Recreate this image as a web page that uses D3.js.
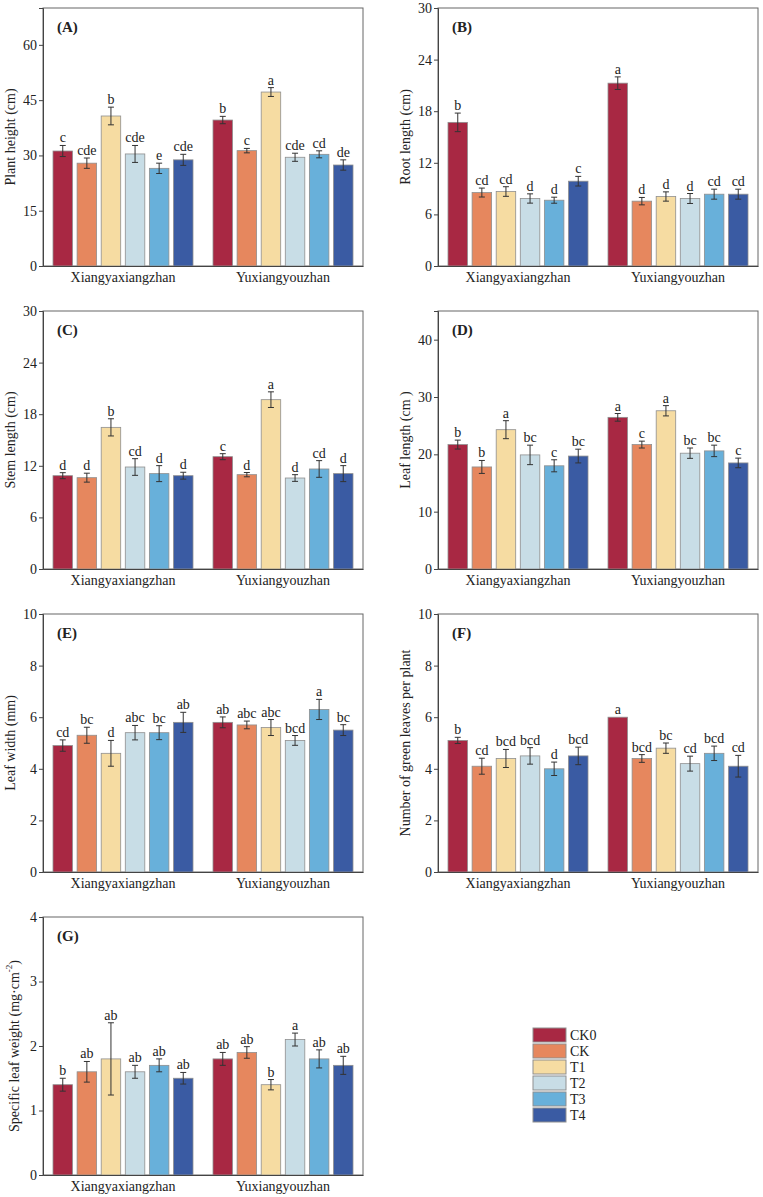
<!DOCTYPE html>
<html>
<head>
<meta charset="utf-8">
<script src="https://cdn.jsdelivr.net/npm/d3@7"></script>
<style>
  body { margin: 0; background: #fff; }
  svg { font-family: 'Liberation Serif', 'Times New Roman', serif; }
</style>
</head>
<body>
<svg width="763" height="1197"></svg>
<script>
// groepen en behandelingen
const cultivars = ['Xiangyaxiangzhan', 'Yuxiangyouzhan']
const treatments = ['CK0', 'CK', 'T1', 'T2', 'T3', 'T4']
const colors = ['#a82843', '#e6875e', '#f6dca2', '#c8dde6', '#68b0da', '#3a5ba3']

// (A) plant height
const heightMean = [[31.2, 27.9, 40.7, 30.4, 26.5, 28.8], [39.6, 31.3, 47.2, 29.5, 30.3, 27.4]]
const heightErr = [[1.5, 1.4, 2.4, 2.3, 1.4, 1.5], [1.0, 0.6, 1.2, 1.1, 0.95, 1.4]]
const heightSig = [['c', 'cde', 'b', 'cde', 'e', 'cde'], ['b', 'c', 'a', 'cde', 'cd', 'de']]
const heightTicks = [0, 15, 30, 45, 60]

// (B) root length
const rootMean = [[16.7, 8.54, 8.66, 7.85, 7.65, 9.86], [21.26, 7.54, 8.08, 7.85, 8.35, 8.35]]
const rootErr = [[1.08, 0.52, 0.56, 0.54, 0.35, 0.56], [0.73, 0.43, 0.54, 0.58, 0.58, 0.58]]
const rootSig = [['b', 'cd', 'cd', 'd', 'd', 'c'], ['a', 'd', 'd', 'd', 'cd', 'cd']]
const rootTicks = [0, 6, 12, 18, 24, 30]

// (C) stem length
const stemMean = [[10.85, 10.62, 16.47, 11.86, 11.09, 10.85], [13.06, 10.97, 19.69, 10.58, 11.63, 11.09]]
const stemErr = [[0.35, 0.52, 1.0, 0.97, 0.93, 0.4], [0.35, 0.25, 0.91, 0.39, 0.97, 0.93]]
const stemSig = [['d', 'd', 'b', 'cd', 'd', 'd'], ['c', 'd', 'a', 'd', 'cd', 'd']]
const stemTicks = [0, 6, 12, 18, 24, 30]

// (D) leaf length
const leafLenMean = [[21.7, 17.8, 24.3, 19.9, 18.0, 19.7], [26.45, 21.7, 27.6, 20.2, 20.6, 18.5]]
const leafLenErr = [[0.78, 1.13, 1.57, 1.7, 1.05, 1.2], [0.67, 0.6, 0.9, 0.9, 1.0, 0.84]]
const leafLenSig = [['b', 'b', 'a', 'bc', 'c', 'bc'], ['a', 'c', 'a', 'bc', 'bc', 'c']]
const leafLenTicks = [0, 10, 20, 30, 40]

// (E) leaf width
const widthMean = [[4.9, 5.3, 4.6, 5.4, 5.4, 5.8], [5.8, 5.7, 5.6, 5.1, 6.3, 5.5]]
const widthErr = [[0.22, 0.31, 0.5, 0.28, 0.27, 0.39], [0.21, 0.15, 0.31, 0.19, 0.39, 0.21]]
const widthSig = [['cd', 'bc', 'd', 'abc', 'bc', 'ab'], ['ab', 'abc', 'abc', 'bcd', 'a', 'bc']]
const widthTicks = [0, 2, 4, 6, 8, 10]

// (F) green leaves
const leavesMean = [[5.1, 4.1, 4.4, 4.5, 4.0, 4.5], [6.0, 4.4, 4.8, 4.2, 4.6, 4.1]]
const leavesErr = [[0.12, 0.31, 0.35, 0.32, 0.26, 0.34], [0, 0.15, 0.2, 0.29, 0.28, 0.42]]
const leavesSig = [['b', 'cd', 'bcd', 'bcd', 'd', 'bcd'], ['a', 'bcd', 'bc', 'cd', 'bcd', 'cd']]
const leavesTicks = [0, 2, 4, 6, 8, 10]

// (G) specific leaf weight
const slwMean = [[1.4, 1.6, 1.8, 1.6, 1.7, 1.5], [1.8, 1.9, 1.4, 2.1, 1.8, 1.7]]
const slwErr = [[0.1, 0.16, 0.56, 0.1, 0.1, 0.09], [0.1, 0.09, 0.08, 0.1, 0.14, 0.14]]
const slwSig = [['b', 'ab', 'ab', 'ab', 'ab', 'ab'], ['ab', 'ab', 'b', 'a', 'ab', 'ab']]
const slwTicks = [0, 1, 2, 3, 4]

const svg = d3.select('svg')

const panels = [
  { tag: '(A)', label: 'Plant height (cm)', mean: heightMean, err: heightErr, sig: heightSig, ticks: heightTicks, max: 70, x: 43, y: 8, labelX: 10 },
  { tag: '(B)', label: 'Root length (cm)', mean: rootMean, err: rootErr, sig: rootSig, ticks: rootTicks, max: 30, x: 438, y: 8, labelX: 405 },
  { tag: '(C)', label: 'Stem length (cm)', mean: stemMean, err: stemErr, sig: stemSig, ticks: stemTicks, max: 30, x: 43, y: 311, labelX: 10 },
  { tag: '(D)', label: 'Leaf length (cm )', mean: leafLenMean, err: leafLenErr, sig: leafLenSig, ticks: leafLenTicks, max: 45, x: 438, y: 311, labelX: 405 },
  { tag: '(E)', label: 'Leaf width (mm)', mean: widthMean, err: widthErr, sig: widthSig, ticks: widthTicks, max: 10, x: 43, y: 614, labelX: 10 },
  { tag: '(F)', label: 'Number of green leaves per plant', mean: leavesMean, err: leavesErr, sig: leavesSig, ticks: leavesTicks, max: 10, x: 438, y: 614, labelX: 405 },
  { tag: '(G)', label: 'slw', mean: slwMean, err: slwErr, sig: slwSig, ticks: slwTicks, max: 4, x: 43, y: 917, labelX: 14 }
]

const W = 320, H = 258

panels.forEach(drawPanel)
drawLegend()

function drawPanel(p) {
  const g = svg.append('g').attr('transform', `translate(${p.x},${p.y})`)

  const x0 = d3.scaleBand().domain(cultivars).range([0, W]).paddingInner(0.125).paddingOuter(0.0625)
  const x1 = d3.scaleBand().domain(treatments).range([0, x0.bandwidth()]).paddingInner(0.19).paddingOuter(0)
  const y = d3.scaleLinear().domain([0, p.max]).range([H, 0])

  // kader
  g.append('rect')
    .attr('width', W).attr('height', H)
    .attr('fill', 'none').attr('stroke', '#666').attr('stroke-width', 1)

  const rows = []
  cultivars.forEach((c, i) => treatments.forEach((t, j) => {
    rows.push({ c, t, j, v: p.mean[i][j], e: p.err[i][j], s: p.sig[i][j] })
  }))

  const bx = d => x0(d.c) + x1(d.t)
  const bw = x1.bandwidth()

  g.selectAll('rect.bar').data(rows).enter().append('rect')
    .attr('class', 'bar')
    .attr('x', bx)
    .attr('y', d => y(d.v))
    .attr('width', bw)
    .attr('height', d => H - y(d.v))
    .attr('fill', d => colors[d.j])
    .attr('stroke', '#8f8f8f')
    .attr('stroke-width', 0.8)

  const eb = g.selectAll('g.err').data(rows.filter(d => d.e > 0)).enter().append('g')
    .attr('stroke', '#333').attr('stroke-width', 1)
  eb.append('line')
    .attr('x1', d => bx(d) + bw / 2).attr('x2', d => bx(d) + bw / 2)
    .attr('y1', d => y(d.v - d.e)).attr('y2', d => y(d.v + d.e))
  eb.append('line')
    .attr('x1', d => bx(d) + bw / 2 - 3).attr('x2', d => bx(d) + bw / 2 + 3)
    .attr('y1', d => y(d.v + d.e)).attr('y2', d => y(d.v + d.e))
  eb.append('line')
    .attr('x1', d => bx(d) + bw / 2 - 3).attr('x2', d => bx(d) + bw / 2 + 3)
    .attr('y1', d => y(d.v - d.e)).attr('y2', d => y(d.v - d.e))

  g.selectAll('text.sig').data(rows).enter().append('text')
    .attr('x', d => bx(d) + bw / 2)
    .attr('y', d => y(d.v + d.e) - 3)
    .attr('text-anchor', 'middle')
    .attr('font-size', 14)
    .attr('fill', '#222')
    .text(d => d.s)

  // assen
  const yAxis = g.append('g')
    .call(d3.axisLeft(y).tickValues(p.ticks).tickFormat(d3.format('d')).tickSize(4).tickPadding(2))
    .attr('font-family', null).attr('font-size', 14)
  yAxis.select('.domain').attr('stroke', '#444')
  yAxis.selectAll('.tick line').attr('stroke', '#444')
  yAxis.selectAll('text').attr('fill', '#222')

  const xAxis = g.append('g').attr('transform', `translate(0,${H})`)
    .call(d3.axisBottom(x0).tickSize(0).tickPadding(6))
    .attr('font-family', null).attr('font-size', 14)
  xAxis.select('.domain').attr('stroke', '#444')
  xAxis.selectAll('text').attr('fill', '#222')

  g.append('text')
    .attr('x', 14).attr('y', 24)
    .attr('font-size', 15).attr('font-weight', 'bold').attr('fill', '#222')
    .text(p.tag)

  const lab = svg.append('text')
    .attr('transform', `translate(${p.labelX},${p.y + H / 2}) rotate(-90)`)
    .attr('text-anchor', 'middle')
    .attr('dominant-baseline', 'central')
    .attr('font-size', 14)
    .attr('fill', '#222')
  if (p.label === 'slw') {
    lab.append('tspan').text('Specific leaf weight (mg·cm')
    lab.append('tspan').attr('font-size', 9).attr('dy', -5).text('-2')
    lab.append('tspan').attr('dy', 5).text(')')
  } else {
    lab.text(p.label)
  }
}

function drawLegend() {
  const lg = svg.append('g').attr('transform', 'translate(533,1028)')
  const item = lg.selectAll('g').data(treatments).enter().append('g')
    .attr('transform', (d, i) => `translate(0,${i * 16})`)
  item.append('rect')
    .attr('width', 33).attr('height', 14)
    .attr('fill', (d, i) => colors[i])
    .attr('stroke', '#8f8f8f').attr('stroke-width', 1)
  item.append('text')
    .attr('x', 37).attr('y', 12)
    .attr('font-size', 14).attr('fill', '#222')
    .text(d => d)
}
</script>
</body>
</html>
